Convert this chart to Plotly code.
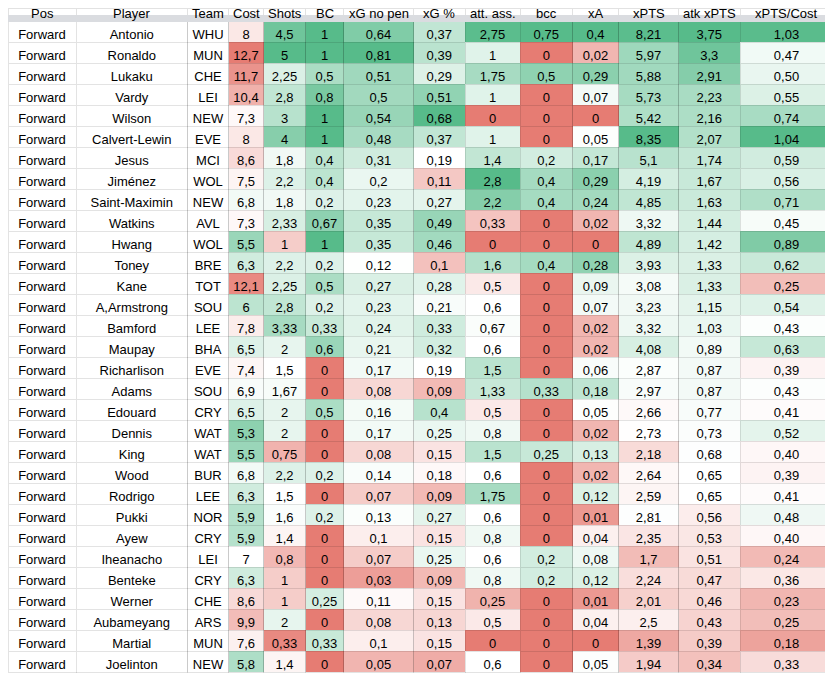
import numpy as np
import plotly.graph_objects as go
from plotly.colors import sample_colorscale

# 数据
columns = ["Pos", "Player", "Team", "Cost", "Shots", "BC", "xG no pen", "xG %",
           "att. ass.", "bcc", "xA", "xPTS", "atk xPTS", "xPTS/Cost"]

players = ["Antonio", "Ronaldo", "Lukaku", "Vardy", "Wilson", "Calvert-Lewin", "Jesus",
           "Jiménez", "Saint-Maximin", "Watkins", "Hwang", "Toney", "Kane", "A,Armstrong",
           "Bamford", "Maupay", "Richarlison", "Adams", "Edouard", "Dennis", "King", "Wood",
           "Rodrigo", "Pukki", "Ayew", "Iheanacho", "Benteke", "Werner", "Aubameyang",
           "Martial", "Joelinton"]
pos = ["Forward"] * len(players)
teams = ["WHU", "MUN", "CHE", "LEI", "NEW", "EVE", "MCI", "WOL", "NEW", "AVL", "WOL", "BRE",
         "TOT", "SOU", "LEE", "BHA", "EVE", "SOU", "CRY", "WAT", "WAT", "BUR", "LEE", "NOR",
         "CRY", "LEI", "CRY", "CHE", "ARS", "MUN", "NEW"]
cost = [8, 12.7, 11.7, 10.4, 7.3, 8, 8.6, 7.5, 6.8, 7.3, 5.5, 6.3, 12.1, 6, 7.8, 6.5, 7.4,
        6.9, 6.5, 5.3, 5.5, 6.8, 6.3, 5.9, 5.9, 7, 6.3, 8.6, 9.9, 7.6, 5.8]
shots = [4.5, 5, 2.25, 2.8, 3, 4, 1.8, 2.2, 1.8, 2.33, 1, 2.2, 2.25, 2.8, 3.33, 2, 1.5,
         1.67, 2, 2, 0.75, 2.2, 1.5, 1.6, 1.4, 0.8, 1, 1, 2, 0.33, 1.4]
bc = [1, 1, 0.5, 0.8, 1, 1, 0.4, 0.4, 0.2, 0.67, 1, 0.2, 0.5, 0.2, 0.33, 0.6, 0, 0, 0.5,
      0, 0, 0.2, 0, 0.2, 0, 0, 0, 0.25, 0, 0.33, 0]
xg_np = [0.64, 0.81, 0.51, 0.5, 0.54, 0.48, 0.31, 0.2, 0.23, 0.35, 0.35, 0.12, 0.27, 0.23,
         0.24, 0.21, 0.17, 0.08, 0.16, 0.17, 0.08, 0.14, 0.07, 0.13, 0.1, 0.07, 0.03, 0.11,
         0.08, 0.1, 0.05]
xg_pct = [0.37, 0.39, 0.29, 0.51, 0.68, 0.37, 0.19, 0.11, 0.27, 0.49, 0.46, 0.1, 0.28, 0.21,
          0.33, 0.32, 0.19, 0.09, 0.4, 0.25, 0.15, 0.18, 0.09, 0.27, 0.15, 0.25, 0.09, 0.15,
          0.13, 0.15, 0.07]
att_ass = [2.75, 1, 1.75, 1, 0, 1, 1.4, 2.8, 2.2, 0.33, 0, 1.6, 0.5, 0.6, 0.67, 0.6, 1.5,
           1.33, 0.5, 0.8, 1.5, 0.6, 1.75, 0.6, 0.8, 0.6, 0.8, 0.25, 0.5, 0, 0.6]
bcc = [0.75, 0, 0.5, 0, 0, 0, 0.2, 0.4, 0.4, 0, 0, 0.4, 0, 0, 0, 0, 0, 0.33, 0, 0, 0.25, 0,
       0, 0, 0, 0.2, 0.2, 0, 0, 0, 0]
xa = [0.4, 0.02, 0.29, 0.07, 0, 0.05, 0.17, 0.29, 0.24, 0.02, 0, 0.28, 0.09, 0.07, 0.02,
      0.02, 0.06, 0.18, 0.05, 0.02, 0.13, 0.02, 0.12, 0.01, 0.04, 0.08, 0.12, 0.01, 0.04, 0,
      0.05]
xpts = [8.21, 5.97, 5.88, 5.73, 5.42, 8.35, 5.1, 4.19, 4.85, 3.32, 4.89, 3.93, 3.08, 3.23,
        3.32, 4.08, 2.87, 2.97, 2.66, 2.73, 2.18, 2.64, 2.59, 2.81, 2.35, 1.7, 2.24, 2.01,
        2.5, 1.39, 1.94]
atk_xpts = [3.75, 3.3, 2.91, 2.23, 2.16, 2.07, 1.74, 1.67, 1.63, 1.44, 1.42, 1.33, 1.33,
            1.15, 1.03, 0.89, 0.87, 0.87, 0.77, 0.73, 0.68, 0.65, 0.65, 0.56, 0.53, 0.51,
            0.47, 0.46, 0.43, 0.39, 0.34]
xpts_cost = [1.03, 0.47, 0.50, 0.55, 0.74, 1.04, 0.59, 0.56, 0.71, 0.45, 0.89, 0.62, 0.25,
             0.54, 0.43, 0.63, 0.39, 0.43, 0.41, 0.52, 0.40, 0.39, 0.41, 0.48, 0.40, 0.24,
             0.36, 0.23, 0.25, 0.18, 0.33]

# 色阶端点 (红端, 中点, 绿端)，按图片估计
scales = {
    "Cost": (12.7, 7.0, 4.5),
    "Shots": (0.2, 1.5, 5),
    "BC": (0, 0, 1),
    "xG no pen": (0, 0.115, 0.81),
    "xG %": (0, 0.19, 0.68),
    "att. ass.": (0, 0.6, 2.8),
    "bcc": (0, 0, 0.75),
    "xA": (0, 0.045, 0.4),
    "xPTS": (0.7, 2.75, 8.35),
    "atk xPTS": (0, 0.65, 3.75),
    "xPTS/Cost": (0.08, 0.42, 1.04),
}
RED, WHITE, GREEN = "rgb(230,124,115)", "rgb(255,255,255)", "rgb(87,187,138)"
cscale = [[0, RED], [0.5, WHITE], [1, GREEN]]


def position(v, red, mid, green):
    # 红端 -> 0, 中点 -> 0.5, 绿端 -> 1 (支持反向色阶)
    if (v - mid) * (red - mid) >= 0 and red != mid:
        return 0.5 - 0.5 * min(abs(v - mid) / abs(red - mid), 1)
    if v == mid:
        return 0.0 if red == mid else 0.5
    return 0.5 + 0.5 * min(abs(v - mid) / abs(green - mid), 1)


def fmt(v):
    return f"{v:g}".replace(".", ",")


numeric = {"Cost": cost, "Shots": shots, "BC": bc, "xG no pen": xg_np, "xG %": xg_pct,
           "att. ass.": att_ass, "bcc": bcc, "xA": xa, "xPTS": xpts, "atk xPTS": atk_xpts,
           "xPTS/Cost": xpts_cost}

values = [pos, players, teams]
fills = [["white"] * len(players)] * 3
for name in columns[3:]:
    col = numeric[name]
    if name == "xPTS/Cost":
        values.append([f"{v:.2f}".replace(".", ",") for v in col])
    else:
        values.append([fmt(v) for v in col])
    pts = [position(v, *scales[name]) for v in col]
    fills.append(sample_colorscale(cscale, pts))

# 页面 body 默认有 8px 边距，图形从 (8, 8) 开始，按窗口剩余空间布置
M = 8
W, H = 833 - M, 675 - M
edges = [0, 76, 187.5, 228.5, 263.5, 305.5, 343.5, 413.5, 465, 520, 572.5, 618.5, 678.5,
         740, 833]
edges = [max(e - M, 0) for e in edges]
widths = [b - a for a, b in zip(edges[:-1], edges[1:])]
LIFT = 3                       # plotly 表格额外下移的像素
head_white = 19 - M - LIFT     # 白色表头
head_total = 24 - M - LIFT     # 表头 + 灰色分隔条

font = dict(family="Arial, Liberation Sans, sans-serif", size=13, color="#000000")
grid = "rgba(0,0,0,0.11)"
empty_head = [""] * len(columns)

fig = go.Figure()
# 数据表 (表头区为灰色分隔条)
fig.add_trace(go.Table(
    domain=dict(x=[0, 1], y=[0, 1]),
    columnwidth=widths,
    header=dict(values=empty_head, height=head_total, fill_color="#dadce0",
                font=font, line=dict(color="#dadce0", width=1)),
    cells=dict(values=values, height=21, fill_color=fills, align="center",
               font=font, line=dict(color=grid, width=1)),
))
# 白色表头行
fig.add_trace(go.Table(
    domain=dict(x=[0, 1], y=[1 - head_white / H, 1]),
    columnwidth=widths,
    header=dict(values=empty_head, height=head_white, fill_color="white",
                font=font, line=dict(color="#e2e2e2", width=1)),
    cells=dict(values=[[""]] * len(columns), height=head_white, fill_color="white",
               font=font, line=dict(color="#e2e2e2", width=1)),
))

# 表头文字
for i, name in enumerate(columns):
    fig.add_annotation(x=(edges[i] + edges[i + 1]) / 2 / W, y=1 - 5.5 / H,
                       xref="paper", yref="paper", text=name, showarrow=False,
                       xanchor="center", yanchor="middle", font=font)

fig.update_layout(width=W, height=H, margin=dict(l=0, r=0, t=0, b=0),
                  paper_bgcolor="white")
fig.write_html("out.html")
